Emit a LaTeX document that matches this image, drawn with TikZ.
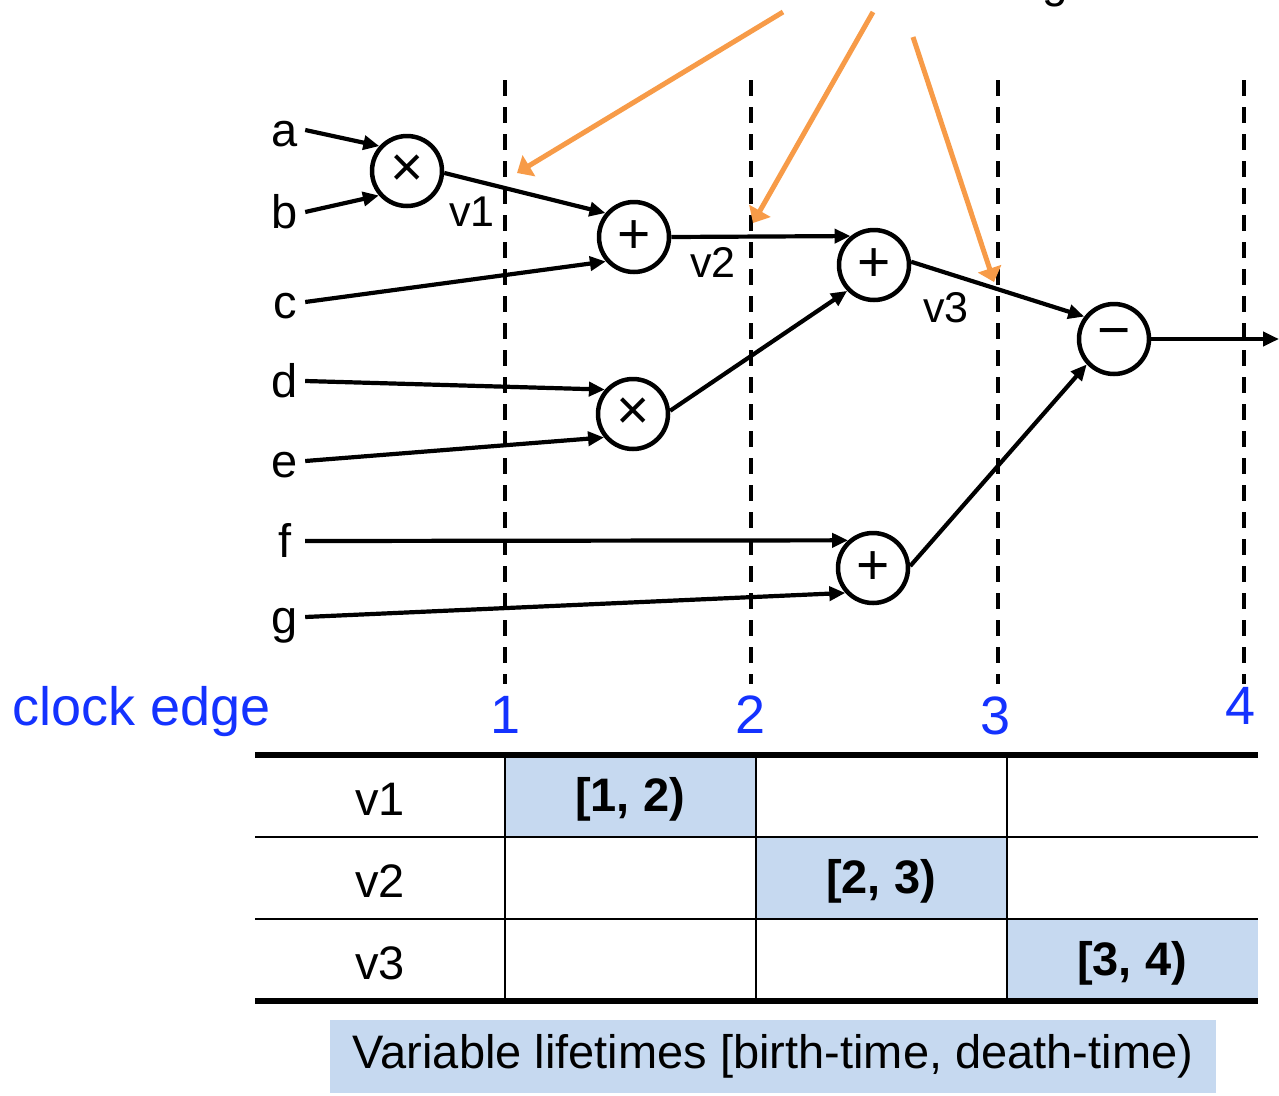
\documentclass[tikz,border=0pt]{standalone}
\usepackage{fontspec}
\setmainfont{Liberation Sans}
\usetikzlibrary{arrows.meta}
\newcommand\myfs[1]{\fontsize{#1}{#1}\selectfont}
\definecolor{regorange}{RGB}{247,155,72}
\definecolor{cellblue}{RGB}{198,217,240}
\definecolor{clockblue}{RGB}{20,50,255}
\tikzset{
  lbl/.style={anchor=base, minimum width=40pt, inner sep=0pt, font=\myfs{47}},
  opnode/.style={circle, draw, line width=4.5pt, minimum size=70pt, inner sep=0pt, font=\myfs{57}},
  wire/.style={line width=4.2pt, -{Triangle[length=16pt,width=14pt]}},
  regarrow/.style={draw=regorange, line width=5pt, -{Triangle[length=14pt,width=24pt]}},
  clockline/.style={line width=3.6pt, dash pattern=on 16pt off 11pt},
  vlab/.style={font=\myfs{43}, inner sep=0pt},
  clk/.style={font=\myfs{54}, text=clockblue, inner sep=0pt},
  cell/.style={font=\myfs{47}, inner sep=0pt},
  boldcell/.style={font=\myfs{47}\bfseries, inner sep=0pt}
}
\begin{document}
\begin{tikzpicture}[x=1pt,y=-1pt]
\useasboundingbox (0,0) rectangle (1279,1095);
% partial text at top
\node[anchor=base, font=\myfs{46}, inner sep=0pt] (topg) at (1055,-3) {g};
% clock edges
\coordinate (k1t) at (505,80); \coordinate (k1b) at (505,684);
\coordinate (k2t) at (751,80); \coordinate (k2b) at (751,684);
\coordinate (k3t) at (998,80); \coordinate (k3b) at (998,684);
\coordinate (k4t) at (1244,80); \coordinate (k4b) at (1244,684);
\draw[clockline] (k1t) -- (k1b);
\draw[clockline] (k2t) -- (k2b);
\draw[clockline] (k3t) -- (k3b);
\draw[clockline] (k4t) -- (k4b);
% inputs
\node[lbl] (a) at (285,146) {a};
\node[lbl] (b) at (285,228) {b};
\node[lbl] (c) at (285,318) {c};
\node[lbl] (d) at (285,397) {d};
\node[lbl] (e) at (285,477) {e};
\node[lbl] (f) at (285,557) {f};
\node[lbl] (g) at (285,633) {g};
% operators
\node[opnode] (n1) at (407,171) {×};
\node[opnode] (n2) at (634,237) {+};
\node[opnode] (n3) at (874,265) {+};
\node[opnode] (n4) at (633,414) {×};
\node[opnode] (n5) at (1114,339) {−};
\node[opnode] (n6) at (873,568) {+};
\coordinate (out) at (1279,339);
% wires
\draw[wire] ([yshift=16pt]a.base east) -- (n1.138);
\draw[wire] ([yshift=16pt]b.base east) -- (n1.221);
\draw[wire] (n1.-3) -- (n2.140);
\draw[wire] ([yshift=16pt]c.base east) -- (n2.221);
\draw[wire] (n2.east) -- (n3.129);
\draw[wire] ([yshift=16pt]d.base east) -- (n4.139);
\draw[wire] ([yshift=16pt]e.base east) -- (n4.219);
\draw[wire] (n4.5) -- (n3.224);
\draw[wire] ([yshift=16pt]f.base east) -- (n6.132);
\draw[wire] ([yshift=16pt]g.base east) -- (n6.222);
\draw[wire] (n3.5) -- (n5.143);
\draw[wire] (n6.3) -- (n5.223);
\draw[wire] (n5.east) -- (out);
% edge labels
\node[vlab] (v1) at (472,212) {v1};
\node[vlab] (v2) at (713,262) {v2};
\node[vlab] (v3) at (946,308) {v3};
% register arrows
\coordinate (o1s) at (783,12); \coordinate (o1e) at (517,173);
\coordinate (o2s) at (873,12); \coordinate (o2e) at (753,223);
\coordinate (o3s) at (913,37); \coordinate (o3e) at (994,282);
\draw[regarrow] (o1s) -- (o1e);
\draw[regarrow] (o2s) -- (o2e);
\draw[regarrow] (o3s) -- (o3e);
% clock labels
\node[clk] (clocklbl) at (142,712) {clock edge};
\node[clk] (c1) at (506,715) {1};
\node[clk] (c2) at (751,715) {2};
\node[clk] (c3) at (996,716) {3};
\node[clk] (c4) at (1240,706) {4};
% table
\fill[cellblue] (505,755) rectangle (756,837);
\fill[cellblue] (756,837) rectangle (1007,919);
\fill[cellblue] (1007,919) rectangle (1258,1001);
\draw[line width=2.8pt] (255,837) -- (1258,837);
\draw[line width=2.8pt] (255,919) -- (1258,919);
\draw[line width=2.8pt] (505,755) -- (505,1001);
\draw[line width=2.8pt] (756,755) -- (756,1001);
\draw[line width=2.8pt] (1007,755) -- (1007,1001);
\draw[line width=5.5pt] (255,755) -- (1258,755);
\draw[line width=5.5pt] (255,1001) -- (1258,1001);
\node[cell] (r1) at (380,799) {v1};
\node[cell] (r2) at (380,881) {v2};
\node[cell] (r3) at (380,963) {v3};
\node[boldcell] (l1) at (630,799) {[1, 2)};
\node[boldcell] (l2) at (881,881) {[2, 3)};
\node[boldcell] (l3) at (1132,963) {[3, 4)};
% caption
\node[fill=cellblue, minimum width=886pt, minimum height=73pt, inner sep=0pt, font=\myfs{47}] (cap) at (773,1056.5) {Variable lifetimes [birth-time, death-time)};
\end{tikzpicture}
\end{document}
